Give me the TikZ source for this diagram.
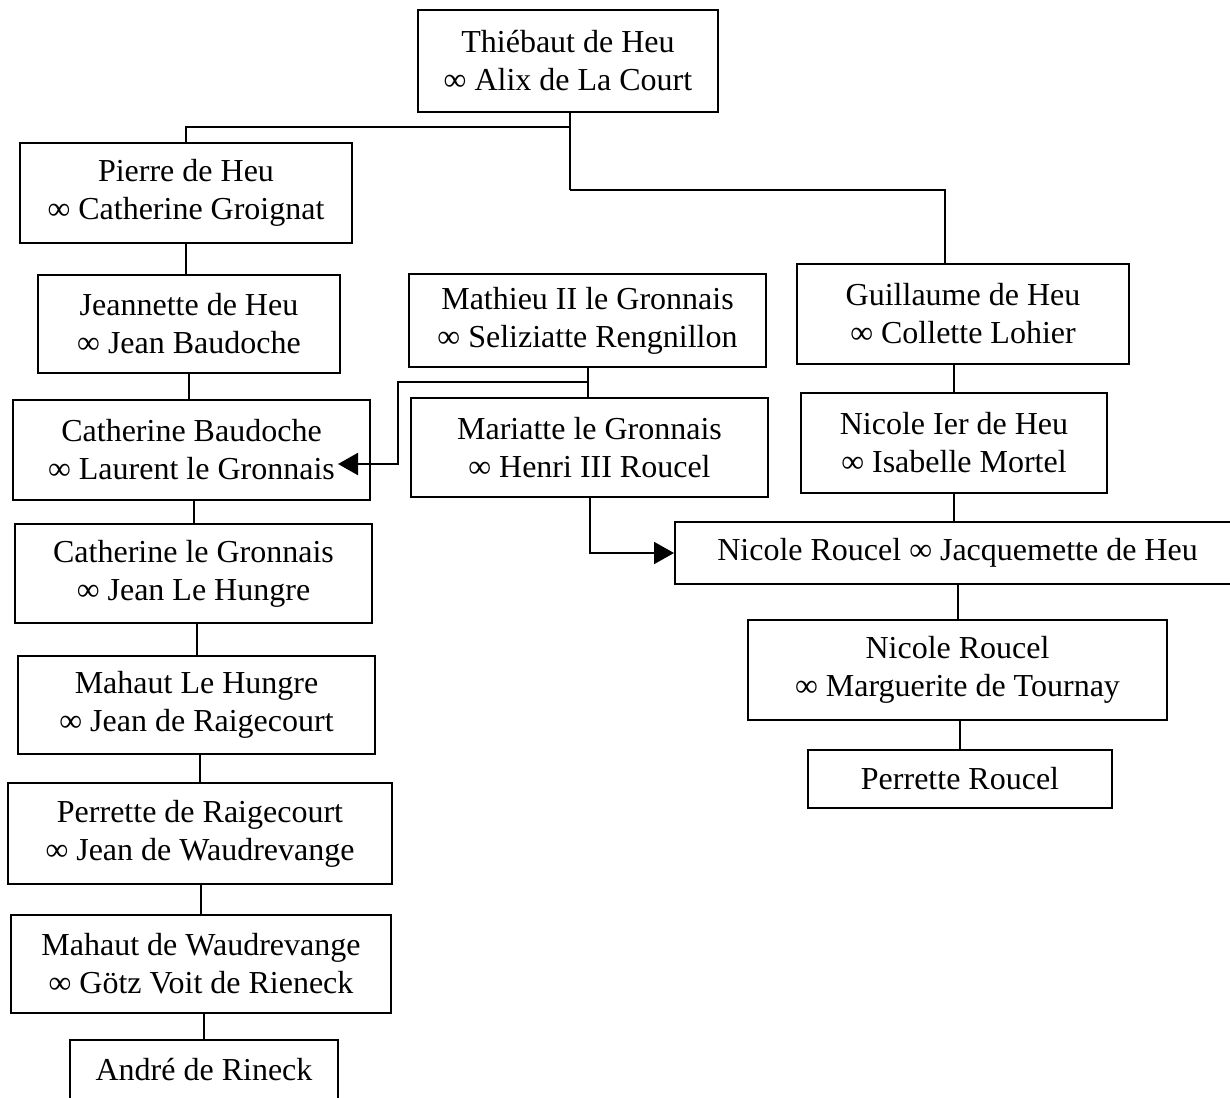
\documentclass[tikz,border=0pt]{standalone}
\usepackage{fontspec}
\setmainfont{Liberation Serif}
\usetikzlibrary{arrows.meta}

\tikzset{every picture/.style={line width=1pt}}
\tikzset{person/.style={draw, align=center, inner sep=0pt, font=\fontsize{16}{19}\selectfont}}
\tikzset{link/.style={line width=1pt}}
\tikzset{linkarrow/.style={line width=1pt, -{Triangle[length=10pt,width=11pt]}}}

\begin{document}
\begin{tikzpicture}[x=0.5pt,y=0.5pt,yscale=-1,xscale=1]
\useasboundingbox (0,0) rectangle (1230,1097);

% Text Node
\node [person, minimum width=150pt, minimum height=51pt] (thiebaut) at (568,61) {Thiébaut de Heu\\∞ Alix de La Court};
% Text Node
\node [person, minimum width=166pt, minimum height=50pt] (pierre) at (186,193) {Pierre de Heu\\∞ Catherine Groignat};
% Text Node
\node [person, minimum width=151pt, minimum height=49pt] (jeannette) at (189,324) {Jeannette de Heu\\∞ Jean Baudoche};
% Text Node
\node [person, minimum width=178.5pt, minimum height=46.5pt] (mathieu) at (587.5,320.5) {Mathieu II le Gronnais\\∞ Seliziatte Rengnillon};
% Text Node
\node [person, minimum width=166pt, minimum height=50pt] (guillaume) at (963,314) {Guillaume de Heu\\∞ Collette Lohier};
% Text Node
\node [person, minimum width=178.5pt, minimum height=50pt] (cbaudoche) at (191.5,450) {Catherine Baudoche\\∞ Laurent le Gronnais};
% Text Node
\node [person, minimum width=178.5pt, minimum height=49.5pt] (mariatte) at (589.5,447.5) {Mariatte le Gronnais\\∞ Henri III Roucel};
% Text Node
\node [person, minimum width=153pt, minimum height=50pt] (nicoleier) at (954,443) {Nicole Ier de Heu\\∞ Isabelle Mortel};
% Text Node
\node [person, minimum width=282.5pt, minimum height=31pt] (nroucel) at (957.5,553) {Nicole Roucel ∞ Jacquemette de Heu};
% Text Node
\node [person, minimum width=178.5pt, minimum height=49.5pt] (cgronnais) at (193.5,573.5) {Catherine le Gronnais\\∞ Jean Le Hungre};
% Text Node
\node [person, minimum width=178.5pt, minimum height=49pt] (mahaut) at (196.5,705) {Mahaut Le Hungre\\∞ Jean de Raigecourt};
% Text Node
\node [person, minimum width=209.5pt, minimum height=50pt] (nroucelb) at (957.5,670) {Nicole Roucel\\∞ Marguerite de Tournay};
% Text Node
\node [person, minimum width=152pt, minimum height=29pt] (perrette) at (960,779) {Perrette Roucel};
% Text Node
\node [person, minimum width=192pt, minimum height=50.5pt] (praige) at (200,833.5) {Perrette de Raigecourt\\∞ Jean de Waudrevange};
% Text Node
\node [person, minimum width=190pt, minimum height=49pt] (mwaud) at (201,964) {Mahaut de Waudrevange\\∞ Götz Voit de Rieneck};
% Text Node
\node [person, minimum width=134pt, minimum height=30pt] (andre) at (204,1070) {André de Rineck};

% Junctions
\coordinate (famtop) at (570,127);
\coordinate (famright) at (570,190);
\coordinate (guiin) at (945,0);
\coordinate (mathj) at (589,382);
\coordinate (cbbend) at (398,464);
\coordinate (cbtip) at (338,464);

%Straight Lines
\draw [link] (thiebaut.south -| famtop) -- (famright);
\draw [link] (famtop) -| (pierre.north);
\draw [link] (famright) -| (guillaume.north -| guiin);
%Straight Lines
\draw [link] (pierre.south) -- (pierre.south |- jeannette.north);
\draw [link] (jeannette.south) -- (jeannette.south |- cbaudoche.north);
\draw [link] (cgronnais.north) -- (cgronnais.north |- cbaudoche.south);
\draw [link] (mahaut.north) -- (mahaut.north |- cgronnais.south);
\draw [link] (praige.north) -- (praige.north |- mahaut.south);
\draw [link] (mwaud.north) -- (mwaud.north |- praige.south);
\draw [link] (andre.north) -- (andre.north |- mwaud.south);
%Straight Lines
\draw [link] (mathieu.south) -- (mathieu.south |- mariatte.north);
\draw [linkarrow] (mathj) -| (cbbend) -- (cbtip);
\draw [linkarrow] (mariatte.south) |- (nroucel.west);
%Straight Lines
\draw [link] (nicoleier.north) -- (nicoleier.north |- guillaume.south);
\draw [link] (nicoleier.south) -- (nicoleier.south |- nroucel.north);
\draw [link] (nroucelb.north) -- (nroucelb.north |- nroucel.south);
\draw [link] (perrette.north) -- (perrette.north |- nroucelb.south);

\end{tikzpicture}
\end{document}
